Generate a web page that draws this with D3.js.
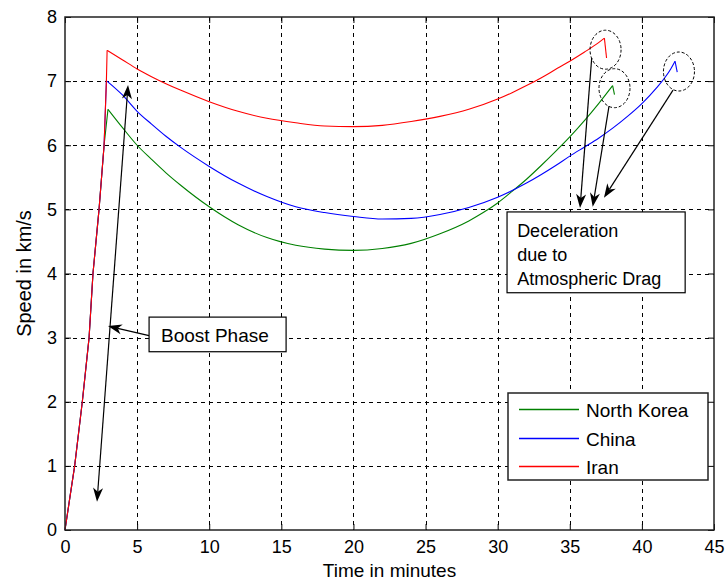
<!DOCTYPE html>
<html>
<head>
<meta charset="utf-8">
<script src="https://cdn.jsdelivr.net/npm/d3@7"></script>
<style>
  html, body { margin: 0; padding: 0; background: #fff; }
  svg { display: block; }
  text { font-family: "Liberation Sans", Arial, sans-serif; fill: #000; }
</style>
</head>
<body>
<script>
// ---------------- DATA ----------------
const seriesNames = ["North Korea", "China", "Iran"];
const seriesColors = ["#008000", "#0000ff", "#ff0000"];

// boost phase (minutes, km/s)
const boostT = [0, 0.3, 0.67, 1.2, 1.67, 1.94, 2.36, 2.71, 2.87];
const boostV = [0, 0.45, 1.0, 2.0, 3.0, 4.0, 5.0, 6.0, 7.0];

// North Korea coast phase
const nkT = [2.98, 4, 5, 6, 7, 8, 10, 12, 14, 16, 18, 20, 22, 24, 26, 28, 29, 30, 31, 32, 33, 34, 35, 36, 37, 37.97];
const nkV = [6.56, 6.27, 6.00, 5.78, 5.57, 5.38, 5.04, 4.76, 4.56, 4.44, 4.38, 4.36, 4.39, 4.47, 4.62, 4.82, 4.95, 5.10, 5.28, 5.47, 5.68, 5.90, 6.13, 6.38, 6.65, 6.93];
// China coast phase
const chT = [2.91, 4, 5, 6, 7, 8, 10, 12, 14, 16, 18, 20, 22, 24, 26, 28, 30, 32, 33, 34, 35, 36, 37, 38, 39, 40, 41, 42, 42.3];
const chV = [7.00, 6.78, 6.53, 6.33, 6.14, 5.97, 5.67, 5.41, 5.20, 5.04, 4.95, 4.89, 4.85, 4.86, 4.92, 5.03, 5.19, 5.41, 5.54, 5.68, 5.83, 5.97, 6.11, 6.27, 6.45, 6.65, 6.89, 7.19, 7.31];
// Iran coast phase
const irT = [2.92, 4, 5, 6, 7, 8, 10, 12, 14, 16, 18, 20, 22, 24, 26, 28, 30, 31, 32, 33, 34, 35, 36, 37, 37.4];
const irV = [7.48, 7.33, 7.19, 7.07, 6.96, 6.86, 6.68, 6.53, 6.42, 6.35, 6.30, 6.29, 6.31, 6.37, 6.45, 6.56, 6.72, 6.82, 6.93, 7.05, 7.18, 7.31, 7.45, 7.60, 7.67];

// end hooks (deceleration due to drag)
const hookT = [[37.97, 38.1], [42.3, 42.45], [37.4, 37.55]];
const hookV = [[6.93, 6.79], [7.31, 7.14], [7.67, 7.36]];

const xTicks = [0, 5, 10, 15, 20, 25, 30, 35, 40, 45];
const yTicks = [0, 1, 2, 3, 4, 5, 6, 7, 8];

// annotations (data units)
const boostLabel = "Boost Phase";
const decelLines = ["Deceleration", "due to", "Atmospheric Drag"];
const ellipseT = [37.48, 38.1, 42.57];
const ellipseV = [7.49, 6.89, 7.15];
const decelArrowFrom = [[36.52, 7.36], [37.72, 6.61], [42.16, 6.86]];
const decelArrowTo = [[35.71, 5.02], [36.59, 5.04], [37.37, 5.18]];

// ---------------- CHART ----------------
const W = 727, H = 586;
const svg = d3.select("body").append("svg").attr("width", W).attr("height", H);

const x = d3.scaleLinear().domain([0, 45]).range([65, 714]);
const y = d3.scaleLinear().domain([0, 8]).range([530, 17]);
const X0 = x(0), X1 = x(45), Y0 = y(0), Y1 = y(8);

// grid
const grid = svg.append("g").attr("stroke", "#000").attr("stroke-width", 1).attr("stroke-dasharray", "4,4");
xTicks.slice(1, -1).forEach(t => {
  grid.append("line").attr("x1", Math.round(x(t)) + 0.5).attr("x2", Math.round(x(t)) + 0.5)
    .attr("y1", Y1).attr("y2", Y0);
});
yTicks.slice(1, -1).forEach(v => {
  grid.append("line").attr("y1", Math.round(y(v)) + 0.5).attr("y2", Math.round(y(v)) + 0.5)
    .attr("x1", X0).attr("x2", X1);
});

// axes (ticks inside, all four sides)
const tl = 6;
const axB = svg.append("g").attr("transform", `translate(0,${Y0})`)
  .call(d3.axisBottom(x).tickValues(xTicks).tickSizeInner(-tl).tickSizeOuter(0).tickPadding(10));
const axT = svg.append("g").attr("transform", `translate(0,${Y1})`)
  .call(d3.axisTop(x).tickValues(xTicks).tickSizeInner(-tl).tickSizeOuter(0).tickFormat(""));
const axL = svg.append("g").attr("transform", `translate(${X0},0)`)
  .call(d3.axisLeft(y).tickValues(yTicks).tickSizeInner(-tl).tickSizeOuter(0).tickPadding(8));
const axR = svg.append("g").attr("transform", `translate(${X1},0)`)
  .call(d3.axisRight(y).tickValues(yTicks).tickSizeInner(-tl).tickSizeOuter(0).tickFormat(""));
[axB, axT, axL, axR].forEach(a => {
  a.select(".domain").remove();
  a.selectAll("line").attr("stroke", "#000");
  a.selectAll("text").style("font-family", "Liberation Sans, Arial, sans-serif").style("font-size", "18px").attr("fill", "#000");
});
axB.selectAll("text").attr("dy", "0.71em");

// data lines
const line = d3.line().x(d => x(d[0])).y(d => y(d[1]));
const coast = d3.line().x(d => x(d[0])).y(d => y(d[1])).curve(d3.curveMonotoneX);
const coastT = [nkT, chT, irT], coastV = [nkV, chV, irV];
const lines = svg.append("g").attr("fill", "none").attr("stroke-width", 1.1);
for (let i = 0; i < 3; i++) {
  const b = boostT.map((t, j) => [t, boostV[j]]);
  if (coastV[i][0] < boostV[boostV.length - 1]) { b.pop(); }
  b.push([coastT[i][0], coastV[i][0]]);
  lines.append("path").attr("d", line(b)).attr("stroke", seriesColors[i]);
  lines.append("path").attr("d", coast(coastT[i].map((t, j) => [t, coastV[i][j]]))).attr("stroke", seriesColors[i]);
  lines.append("path").attr("d", line(hookT[i].map((t, j) => [t, hookV[i][j]]))).attr("stroke", seriesColors[i]);
}

// plot border
svg.append("rect").attr("x", X0).attr("y", Y1).attr("width", X1 - X0).attr("height", Y0 - Y1)
  .attr("fill", "none").attr("stroke", "#222").attr("stroke-width", 1.5);

// axis labels
svg.append("text").attr("x", (X0 + X1) / 2).attr("y", 577).attr("text-anchor", "middle")
  .style("font-size", "19px").text("Time in minutes");
svg.append("text").attr("transform", `translate(31,${(Y0 + Y1) / 2}) rotate(-90)`).attr("text-anchor", "middle")
  .style("font-size", "20px").text("Speed in km/s");

// arrow helper
function arrow(g, p0, p1, heads) {
  const [ax, ay] = p0, [bx, by] = p1;
  const dx = bx - ax, dy = by - ay, len = Math.hypot(dx, dy);
  const ux = dx / len, uy = dy / len;
  const L = 14, Wd = 5, N = 4;
  function head(tx, ty, sx, sy) {
    const pts = [
      [tx, ty],
      [tx - L * sx + Wd * -sy, ty - L * sy + Wd * sx],
      [tx - (L - N) * sx, ty - (L - N) * sy],
      [tx - L * sx - Wd * -sy, ty - L * sy - Wd * sx]
    ];
    g.append("polygon").attr("points", pts.map(p => p.join(",")).join(" ")).attr("fill", "#000");
  }
  let sx = ax, sy = ay, ex = bx, ey = by;
  if (heads.end) { ex = bx - (L - N) * ux; ey = by - (L - N) * uy; head(bx, by, ux, uy); }
  if (heads.start) { sx = ax + (L - N) * ux; sy = ay + (L - N) * uy; head(ax, ay, -ux, -uy); }
  g.append("line").attr("x1", sx).attr("y1", sy).attr("x2", ex).attr("y2", ey)
    .attr("stroke", "#000").attr("stroke-width", 1.2);
}

const ann = svg.append("g");

// boost phase double arrow
arrow(ann, [x(2.22), y(0.44)], [x(4.37), y(6.94)], { start: true, end: true });
// boost phase text arrow
arrow(ann, [x(5.83), y(3.03)], [x(2.98), y(3.18)], { end: true });
// boost box
ann.append("rect").attr("x", x(5.83)).attr("y", y(3.32)).attr("width", x(15.33) - x(5.83)).attr("height", y(2.78) - y(3.32))
  .attr("fill", "#fff").attr("stroke", "#000").attr("stroke-width", 1.2);
ann.append("text").attr("x", x(6.66)).attr("y", y(2.93)).style("font-size", "19px").text(boostLabel);

// ellipses
for (let i = 0; i < 3; i++) {
  ann.append("ellipse").attr("cx", x(ellipseT[i])).attr("cy", y(ellipseV[i]))
    .attr("rx", x(1.075) - x(0)).attr("ry", y(0) - y(0.304))
    .attr("fill", "none").attr("stroke", "#000").attr("stroke-width", 1).attr("stroke-dasharray", "3,2");
}
// deceleration arrows
for (let i = 0; i < 3; i++) {
  arrow(ann, [x(decelArrowFrom[i][0]), y(decelArrowFrom[i][1])], [x(decelArrowTo[i][0]), y(decelArrowTo[i][1])], { end: true });
}
// deceleration box
ann.append("rect").attr("x", x(30.65)).attr("y", y(4.96)).attr("width", x(43.0) - x(30.65)).attr("height", y(3.70) - y(4.96))
  .attr("fill", "#fff").attr("stroke", "#000").attr("stroke-width", 1.2);
decelLines.forEach((s, i) => {
  ann.append("text").attr("x", x(31.35)).attr("y", 237 + i * 24).style("font-size", "18px").text(s);
});

// legend
const lg = svg.append("g");
const lx = 508, ly = 393, lw = 200, lh = 87;
lg.append("rect").attr("x", lx).attr("y", ly).attr("width", lw).attr("height", lh)
  .attr("fill", "#fff").attr("stroke", "#222").attr("stroke-width", 1.5);
seriesNames.forEach((n, i) => {
  const yy = Math.round(ly + 16 + i * 28.5) + 0.5;
  lg.append("line").attr("x1", lx + 11).attr("x2", lx + 71).attr("y1", yy).attr("y2", yy)
    .attr("stroke", seriesColors[i]).attr("stroke-width", 1.5);
  lg.append("text").attr("x", lx + 78).attr("y", yy + 7).style("font-size", "19px").text(n);
});
</script>
</body>
</html>
